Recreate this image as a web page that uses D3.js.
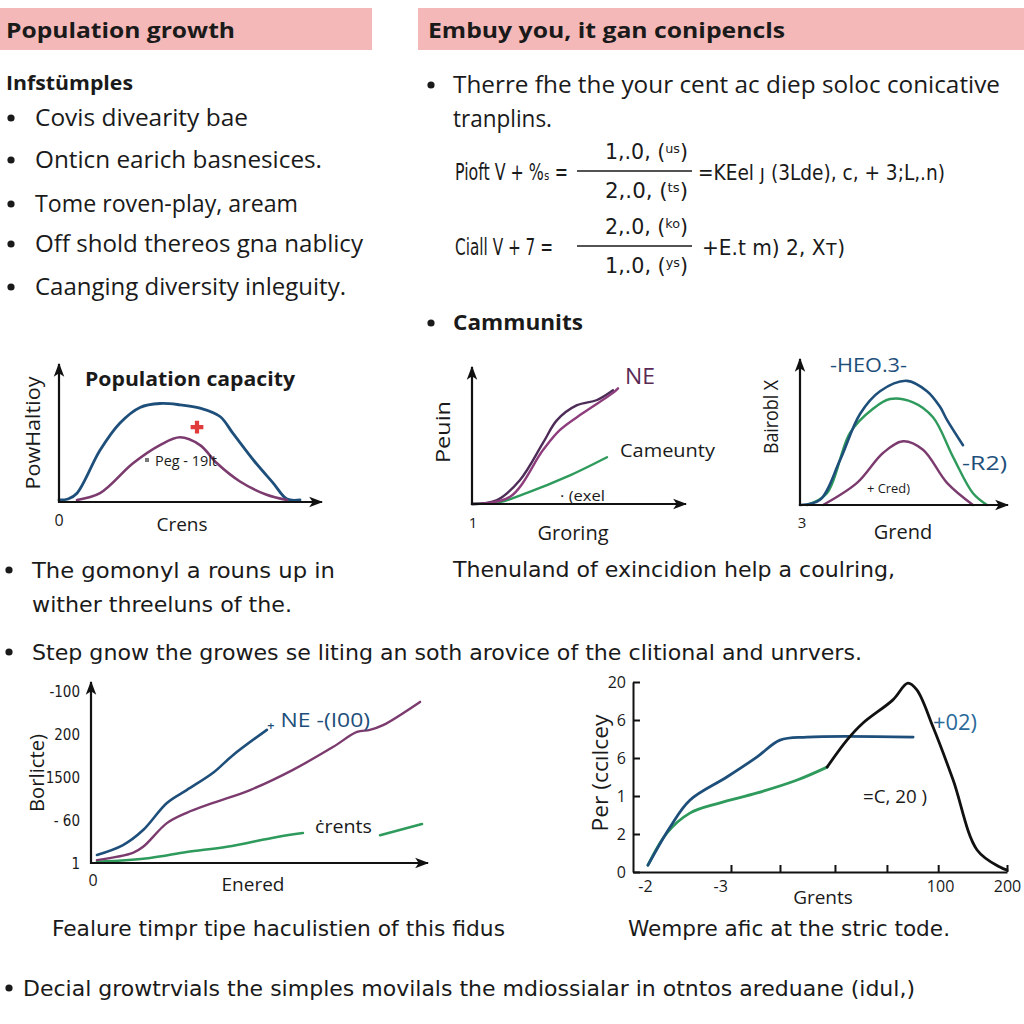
<!DOCTYPE html>
<html><head><meta charset="utf-8">
<script src="https://cdn.jsdelivr.net/npm/d3@7"></script>
<style>html,body{margin:0;padding:0;background:#fff;}svg{display:block;}</style>
</head><body>
<script>
// ---------- DATA ----------
const headerTitles = ["Population growth", "Embuy you, it gan conipencls"];
const leftHeading = "Infstümples";
const leftBullets = ["Covis divearity bae", "Onticn earich basnesices.", "Tome roven-play, aream", "Off shold thereos gna nablicy", "Caanging diversity inleguity."];
const rightBulletLines = ["Therre fhe the your cent ac diep soloc conicative", "tranplins."];
const rightSubBullet = "Cammunits";
const formulaLeft = ["Pioft V + %\u209B =", "Ciall V + 7 ="];
const formulaNum = [["1,.0, (", "us", ")"], ["2,.0, (", "ko", ")"]];
const formulaDen = [["2,.0, (", "ts", ")"], ["1,.0, (", "ys", ")"]];
const formulaRight = ["=KEel \u0237 (3Lde), c, + 3;L,.n)", "+E.t m) 2\u201A X\u1D1B)"];

// Chart 1 : Population capacity
const c1Blue = [[0,0.08],[0.36,0.15],[0.72,0.6],[1.64,3.9],[2.44,6.0],[3.24,7.2],[4.04,7.5],[4.84,7.4],[5.64,7.15],[6.44,6.5],[6.96,5.2],[7.84,3.0],[8.56,1.4],[9.12,0.15],[9.64,0.08]];
const c1Purple = [[0.72,0.08],[1.64,0.6],[2.96,2.9],[4.04,4.3],[4.84,4.9],[5.64,4.3],[6.32,2.9],[7.24,1.5],[8.28,0.5],[9.12,0.08]];
const c1Marker = [[5.52,5.69]];

// Chart 2 : Groring
const c2DarkPurple = [[0,0],[1.25,0.3],[2.4,1.85],[3.55,4.7],[4.25,6.45],[5.25,7.6],[6.25,8.0],[7.05,8.75]];
const c2Purple = [[0,0],[1.9,0.55],[3.55,4.15],[4.4,5.7],[5.55,7.0],[7.05,8.55],[7.3,8.9]];
const c2Green = [[0,0],[1.4,0.15],[2.75,0.85],[4.75,2.1],[6.75,3.6]];

// Chart 3 : Grend
const c3Blue = [[0,0],[1,0.4],[2,3.45],[3,7.0],[4,8.75],[5.35,9.55],[6.35,8.75],[7,7.55],[7.35,6.55],[8.15,4.6]];
const c3Green = [[0.35,0],[1.35,0.9],[2.5,5.55],[3.65,7.4],[4.5,8.15],[5.65,7.9],[6.65,6.75],[7.65,3.7],[8.65,0.9],[9.35,0]];
const c3Purple = [[1.15,0],[2.85,1.7],[4.15,4.0],[5.15,4.9],[6.15,4.25],[7.35,1.7],[8.65,0]];

// Chart 4 : Enered
const c4YTickLabels = ["1", "- 60", "1500", "200", "-100"];
const c4Blue = [[0.18,0.21],[0.97,0.44],[1.58,0.79],[2.3,1.42],[2.9,1.72],[3.7,2.12],[4.3,2.53],[5.33,3.12]];
const c4Purple = [[0.18,0.09],[1.27,0.26],[1.58,0.4],[2.3,0.95],[2.9,1.19],[3.7,1.42],[4.82,1.72],[6.12,2.19],[7.33,2.72],[8.06,3.07],[8.45,3.12],[8.85,3.23],[9.97,3.77]];
const c4GreenA = [[0.18,0.05],[1.79,0.14],[2.9,0.28],[4.12,0.4],[5.64,0.63],[6.42,0.72]];
const c4GreenB = [[8.76,0.67],[10.03,0.93]];

// Chart 5 : Grents
const c5YTickLabels = ["0", "2", "1", "6", "6", "20"];
const c5XMarks = [2.62, 3.93, 5.40, 6.79, 8.16, 10];
const c5XLabelPos = [0.32, 2.33, 8.21, 10];
const c5XLabels = ["-2", "-3", "100", "200"];
const c5Blue = [[0.4,0.18],[0.99,1.18],[1.52,1.89],[2.51,2.5],[3.32,3.03],[3.93,3.47],[4.65,3.55],[7.49,3.55]];
const c5Green = [[0.4,0.18],[0.91,1.03],[1.52,1.55],[2.33,1.82],[3.32,2.08],[4.39,2.42],[5.19,2.76]];
const c5Black = [[5.19,2.76],[5.72,3.47],[6.15,3.92],[6.95,4.53],[7.35,4.97],[7.59,4.79],[8.02,3.82],[8.56,2.42],[9.2,0.58],[9.81,0.13],[10,0.05]];

// ---------- DRAW ----------
const FONT = "'Open Sans', 'Noto Sans', sans-serif";
const COND = "'DejaVu Sans Condensed', 'Liberation Sans Narrow', 'Open Sans', sans-serif";
const BLUE = "#1e4f7b", PURPLE = "#7c3b6e", GREEN = "#2e9a5c", DPURPLE = "#4d2c58", INK = "#1a1a1a";

const svg = d3.select("body").append("svg").attr("width",1024).attr("height",1024);
svg.append("rect").attr("width",1024).attr("height",1024).attr("fill","#fff");
const defs = svg.append("defs");
defs.append("marker").attr("id","arr").attr("viewBox","0 0 12 10").attr("refX",11).attr("refY",5)
  .attr("markerWidth",14).attr("markerHeight",12).attr("markerUnits","userSpaceOnUse").attr("orient","auto")
  .append("path").attr("d","M0,0.5 L12,5 L0,9.5 L3,5 z").attr("fill","#111");

function T(o){
  const t = svg.append("text").attr("x",o.x).attr("y",o.y).text(o.t)
    .attr("font-size",o.s||22).attr("font-weight",o.w||400).attr("fill",o.c||INK)
    .attr("text-anchor",o.a||"start").attr("font-family",o.f||FONT);
  if(o.len) t.attr("textLength",o.len).attr("lengthAdjust","spacingAndGlyphs");
  if(o.db) t.attr("dominant-baseline",o.db);
  if(o.rot) t.attr("transform",`rotate(${o.rot},${o.x},${o.y})`);
  return t;
}
function dot(x,y){ svg.append("circle").attr("cx",x).attr("cy",y).attr("r",3.6).attr("fill",INK); }

// headers
svg.append("rect").attr("x",0).attr("y",8).attr("width",372).attr("height",42).attr("fill","#f4b8b8");
svg.append("rect").attr("x",418).attr("y",8).attr("width",606).attr("height",42).attr("fill","#f4b8b8");
T({x:6,y:38,t:headerTitles[0],s:22,w:700,len:229});
T({x:428,y:38,t:headerTitles[1],s:22,w:700,len:357});

// left text block
T({x:6,y:90,t:leftHeading,s:20,w:700,len:127});
const lbY=[118,160,204,244,287], lbW=[213,287,263,328,311];
leftBullets.forEach((b,i)=>{ dot(11,lbY[i]); T({x:35,y:lbY[i]+8,t:b,s:23,len:lbW[i]}); });

// right text block
dot(431,85);
T({x:453,y:93,t:rightBulletLines[0],s:23,len:547});
T({x:453,y:127,t:rightBulletLines[1],s:23,len:99});

function fracPart(x,y,parts){
  const t = svg.append("text").attr("x",x).attr("y",y).attr("font-size",21).attr("font-family",COND).attr("fill",INK)
    .attr("textLength",83).attr("lengthAdjust","spacingAndGlyphs");
  t.append("tspan").text(parts[0]);
  t.append("tspan").attr("font-size",13).attr("dy",-6).text(parts[1]);
  t.append("tspan").attr("dy",6).text(parts[2]);
}
const fRowY=[172,247];
fRowY.forEach((cy,i)=>{
  T({x:455,y:cy+8,t:formulaLeft[i],s:23,f:COND,len:i===0?113:98});
  fracPart(605,cy-13,formulaNum[i]);
  svg.append("line").attr("x1",577).attr("x2",692).attr("y1",cy-1).attr("y2",cy-1).attr("stroke",INK).attr("stroke-width",1.6);
  fracPart(605,cy+26,formulaDen[i]);
  T({x:i===0?698:702,y:cy+8,t:formulaRight[i],s:22,f:COND,len:i===0?247:143});
});
dot(431,323);
T({x:453,y:330,t:rightSubBullet,s:21,w:700,len:130});

// generic helpers
function axesArrow(x0,y0,yTop,xEnd){
  svg.append("line").attr("x1",x0).attr("y1",y0+1).attr("x2",x0).attr("y2",yTop).attr("stroke","#111").attr("stroke-width",2.2).attr("marker-end","url(#arr)");
  svg.append("line").attr("x1",x0-1).attr("y1",y0).attr("x2",xEnd).attr("y2",y0).attr("stroke","#111").attr("stroke-width",2.2).attr("marker-end","url(#arr)");
}
function curve(data,xs,ys,color,w){
  const line = d3.line().x(d=>xs(d[0])).y(d=>ys(d[1])).curve(d3.curveCatmullRom.alpha(0.5));
  svg.append("path").attr("d",line(data)).attr("fill","none").attr("stroke",color)
    .attr("stroke-width",w||2.6).attr("stroke-linecap","round").attr("stroke-linejoin","round");
}

// Chart 1
{
  const xs=d3.scaleLinear().domain([0,10]).range([59,309]);
  const ys=d3.scaleLinear().domain([0,10]).range([501,371]);
  curve(c1Blue,xs,ys,BLUE,2.8);
  curve(c1Purple,xs,ys,PURPLE,2.6);
  axesArrow(59,502,364,322);
  svg.selectAll(".c1m").data(c1Marker).join("path").attr("class","c1m")
    .attr("transform",d=>`translate(${xs(d[0])},${ys(d[1])})`)
    .attr("d",d3.symbol(d3.symbolCross,90)).attr("fill","#e03a3a");
  T({x:85,y:386,t:"Population  capacity",s:20,w:700,len:210});
  T({x:32,y:433,t:"PowHaltioy",s:20,a:"middle",db:"central",rot:-90,len:113});
  T({x:59,y:526,t:"0",s:16,a:"middle"});
  T({x:182,y:531,t:"Crens",s:19,a:"middle"});
  svg.append("rect").attr("x",145).attr("y",458).attr("width",4).attr("height",4).attr("fill","#777");
  T({x:155,y:466,t:"Peg - 19lt",s:14,len:62});
}

// Chart 2
{
  const xs=d3.scaleLinear().domain([0,10]).range([472,672]);
  const ys=d3.scaleLinear().domain([0,10]).range([504,374]);
  curve(c2Green,xs,ys,GREEN,2.4);
  curve(c2DarkPurple,xs,ys,DPURPLE,2.4);
  curve(c2Purple,xs,ys,"#8e3d7c",2.4);
  axesArrow(472,504,367,686);
  T({x:442,y:432,t:"Peuin",s:20,a:"middle",db:"central",rot:-90,len:62});
  T({x:625,y:384,t:"NE",s:21,c:"#5a2a55",len:30});
  T({x:620,y:457,t:"Cameunty",s:19,len:95});
  T({x:560,y:501,t:"\u00B7 (exel",s:14,len:45});
  T({x:473,y:528,t:"1",s:15,a:"middle"});
  T({x:573,y:540,t:"Groring",s:20,a:"middle"});
}

// Chart 3
{
  const xs=d3.scaleLinear().domain([0,10]).range([800,1000]);
  const ys=d3.scaleLinear().domain([0,10]).range([505,375]);
  curve(c3Purple,xs,ys,PURPLE,2.4);
  curve(c3Green,xs,ys,GREEN,2.4);
  curve(c3Blue,xs,ys,BLUE,2.6);
  axesArrow(800,505,359,1008);
  T({x:770,y:417,t:"Bairobl X",s:20,a:"middle",db:"central",rot:-90,len:74});
  T({x:830,y:372,t:"-HEO.3-",s:20,c:BLUE,len:77});
  T({x:962,y:470,t:"-R2)",s:20,c:BLUE,len:45});
  T({x:867,y:493,t:"+ Cred)",s:13,len:43});
  T({x:802,y:528,t:"3",s:15,a:"middle"});
  T({x:903,y:539,t:"Grend",s:20,a:"middle"});
}

// text between rows
dot(9,570);
T({x:32,y:578,t:"The gomonyl a rouns up in",s:22,f:COND,len:303});
T({x:32,y:612,t:"wither threeluns of the.",s:22,f:COND,len:260});
T({x:453,y:577,t:"Thenuland of exincidion help a coulring,",s:22,f:COND,len:442});
dot(9,652);
T({x:32,y:660,t:"Step gnow the growes se liting an soth arovice of the clitional and unrvers.",s:22,f:COND,len:830});

// Chart 4
{
  const xs=d3.scaleLinear().domain([0,10]).range([91,421]);
  const ys=d3.scaleLinear().domain([0,4]).range([864,692]);
  curve(c4GreenA,xs,ys,GREEN,2.6);
  curve(c4GreenB,xs,ys,GREEN,2.6);
  curve(c4Purple,xs,ys,PURPLE,2.4);
  curve(c4Blue,xs,ys,BLUE,2.6);
  axesArrow(91,863,682,428);
  const ax = svg.append("g").attr("transform","translate(91,0)")
    .call(d3.axisLeft(ys).tickValues(d3.range(c4YTickLabels.length)).tickFormat(i=>c4YTickLabels[i]).tickSize(0).tickPadding(11));
  ax.select(".domain").remove();
  ax.selectAll("text").attr("font-size",15).attr("font-family",COND).attr("fill",INK);
  T({x:36,y:773,t:"Borlicte)",s:20,a:"middle",db:"central",rot:-90,len:78});
  T({x:93,y:886,t:"0",s:16,a:"middle"});
  T({x:253,y:891,t:"Enered",s:19,a:"middle"});
  T({x:267,y:727,t:"\u208A NE -(I00)",s:20,c:BLUE,len:103});
  T({x:315,y:833,t:"\u010Brents",s:19,len:57});
}

// Chart 5
{
  const xs=d3.scaleLinear().domain([0,10]).range([633,1007]);
  const ys=d3.scaleLinear().domain([0,5]).range([872,682]);
  curve(c5Green,xs,ys,GREEN,2.8);
  curve(c5Blue,xs,ys,BLUE,2.8);
  curve(c5Black,xs,ys,"#111",2.8);
  const ay = svg.append("g").attr("transform","translate(633,0)")
    .call(d3.axisLeft(ys).tickValues(d3.range(c5YTickLabels.length)).tickFormat(i=>c5YTickLabels[i]).tickSizeInner(-7).tickSizeOuter(0).tickPadding(7));
  ay.selectAll("text").attr("font-size",16).attr("font-family",FONT).attr("fill",INK);
  ay.selectAll("line,path").attr("stroke","#111").attr("stroke-width",2);
  const axm = svg.append("g").attr("transform","translate(0,872)")
    .call(d3.axisBottom(xs).tickValues(c5XMarks).tickFormat("").tickSizeInner(-7).tickSizeOuter(0));
  axm.selectAll("line,path").attr("stroke","#111").attr("stroke-width",2);
  const axl = svg.append("g").attr("transform","translate(0,872)")
    .call(d3.axisBottom(xs).tickValues(c5XLabelPos).tickFormat((d,i)=>c5XLabels[i]).tickSize(0).tickPadding(9));
  axl.select(".domain").remove();
  axl.selectAll("text").attr("font-size",16).attr("font-family",FONT).attr("fill",INK);
  T({x:600,y:773,t:"Per (cc\u0131lcey",s:21,a:"middle",db:"central",rot:-90,len:117});
  T({x:823,y:904,t:"Grents",s:19,a:"middle"});
  T({x:933,y:730,t:"+02)",s:21,c:"#2a6a9a",len:44});
  T({x:863,y:803,t:"=C, 20 )",s:19,len:64});
}

// captions & footer
T({x:52,y:936,t:"Fealure timpr tipe haculistien of this fidus",s:22,f:COND,len:453});
T({x:628,y:936,t:"Wempre afic at the stric tode.",s:22,f:COND,len:322});
dot(9,988);
T({x:23,y:996,t:"Decial growtrvials the simples movilals the mdiossialar in otntos areduane (idul,)",s:22,f:COND,len:892});
</script>
</body></html>
